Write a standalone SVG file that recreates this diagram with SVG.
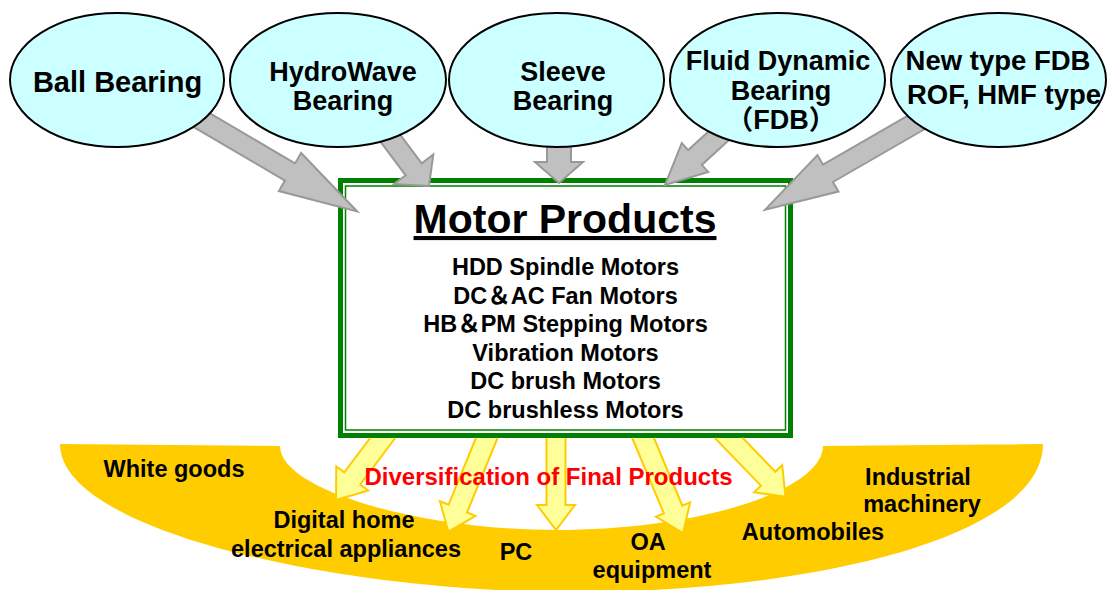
<svg xmlns="http://www.w3.org/2000/svg" width="1108" height="590" viewBox="0 0 1108 590">
<style>
text{font-family:"Liberation Sans","Noto Sans CJK JP",Arial,sans-serif;font-weight:bold;text-anchor:middle;fill:#000}
.ell{fill:#ccffff;stroke:#000;stroke-width:2}
.ga{fill:#c0c0c0;stroke:#999999;stroke-width:2;stroke-linejoin:miter}
.ya{fill:#ffff99;stroke:#ffcc00;stroke-width:2;stroke-linejoin:miter}
.top{font-size:27px}
.lst{font-size:23.5px}
.lbl{font-size:23.5px}
</style>
<rect width="1108" height="590" fill="#ffffff"/>
<g id="final-products-band">
<path d="M60,444 L280,446 C280,490 420,530 557,530 C700,530 823,490 823,446 L1043,444 C1043,540 800,594 560,592 C330,590 60,530 60,444 Z" fill="#ffcc00"/>
</g>
<g id="motor-products">
<rect x="340.5" y="180.5" width="450" height="255" fill="#ffffff" stroke="#008000" stroke-width="5"/>
<rect x="345.5" y="186" width="440" height="244" fill="none" stroke="#008000" stroke-width="1.5"/>
<text x="565" y="233" font-size="41" text-decoration="underline">Motor Products</text>
<text class="lst" x="565.5" y="275">HDD Spindle Motors</text>
<text class="lst" x="565.5" y="303.6">DC＆AC Fan Motors</text>
<text class="lst" x="565.5" y="332.2">HB＆PM Stepping Motors</text>
<text class="lst" x="565.5" y="360.8">Vibration Motors</text>
<text class="lst" x="565.5" y="389.4">DC brush Motors</text>
<text class="lst" x="565.5" y="418">DC brushless Motors</text>
</g>
<g id="connectors">
<polygon class="ga" points="200.2,107.7 295.06,163.38 301.1,153 357.2,211.5 278.9,191 284.94,180.62 181.5,119.9"/>
<polygon class="ga" points="388.7,119.3 421.7,163.3 433.3,154.6 429,186 394.1,184 405.7,175.3 363.7,119.3"/>
<polygon class="ga" points="547,130 547,162 535,162 559,183 583,162 571,162 571,130"/>
<polygon class="ga" points="721.4,119.7 688.2,150.1 681.8,143.1 665,185 708.2,171.9 701.8,164.9 735,134.5"/>
<polygon class="ga" points="918.3,109.7 823,164.7 817.5,155.1 765,209.7 838.5,191.5 833,182 936.9,122"/>
<path class="ya" d="M370.2,438 L344.26,472.42 L336.28,466.4 L336,500 L368.22,490.48 L360.24,484.46 L395.25,438"/>
<path class="ya" d="M475.93,438 L448.54,504.78 L439.98,501.26 L448.3,531.7 L475.6,515.88 L467.04,512.37 L497.54,438"/>
<path class="ya" d="M546.5,438 L546.5,505 L537,505 L556,530 L575,505 L565.5,505 L565.5,438"/>
<path class="ya" d="M632.22,438 L663.9,513.37 L656.06,516.66 L683,533 L690.18,502.32 L682.34,505.62 L653.92,438"/>
<path class="ya" d="M714.9,438 L760.94,485.67 L754.1,492.27 L785.5,496.7 L782.16,465.17 L775.32,471.77 L742.7,438"/>
</g>
<g id="ball-bearing">
<ellipse class="ell" cx="117" cy="80" rx="107" ry="67"/>
<text x="117.5" y="92" font-size="29">Ball Bearing</text>
</g>
<g id="hydrowave-bearing">
<ellipse class="ell" cx="338" cy="80" rx="108" ry="67"/>
<text class="top" x="343" y="81">HydroWave</text>
<text class="top" x="343" y="109.5">Bearing</text>
</g>
<g id="sleeve-bearing">
<ellipse class="ell" cx="556.5" cy="80" rx="107.5" ry="67"/>
<text class="top" x="563" y="80.5">Sleeve</text>
<text class="top" x="563" y="110">Bearing</text>
</g>
<g id="fluid-dynamic-bearing">
<ellipse class="ell" cx="777.5" cy="80" rx="107.5" ry="67"/>
<text class="top" x="778" y="70">Fluid Dynamic</text>
<text class="top" x="781" y="99.5">Bearing</text>
<text class="top" x="781" y="128.5">（FDB）</text>
</g>
<g id="new-type-fdb">
<ellipse class="ell" cx="998.5" cy="80" rx="107.5" ry="67"/>
<text x="998" y="69.5" font-size="27.5">New type FDB</text>
<text x="1004" y="103.5" font-size="27.5">ROF, HMF type</text>
</g>
<g id="diversification-label">
<text x="548.5" y="485" font-size="24" style="fill:#ff0000">Diversification of Final Products</text>
</g>
<g id="white-goods"><text class="lbl" x="174" y="477.3">White goods</text></g>
<g id="digital-home">
<text class="lbl" x="344" y="528.3">Digital home</text>
<text class="lbl" x="346" y="556.7">electrical appliances</text>
</g>
<g id="pc"><text class="lbl" x="516" y="560">PC</text></g>
<g id="oa-equipment">
<text class="lbl" x="648" y="550">OA</text>
<text class="lbl" x="652" y="578.3">equipment</text>
</g>
<g id="automobiles"><text class="lbl" x="813" y="540">Automobiles</text></g>
<g id="industrial-machinery">
<text class="lbl" x="918" y="485">Industrial</text>
<text class="lbl" x="922" y="511.7">machinery</text>
</g>
</svg>
